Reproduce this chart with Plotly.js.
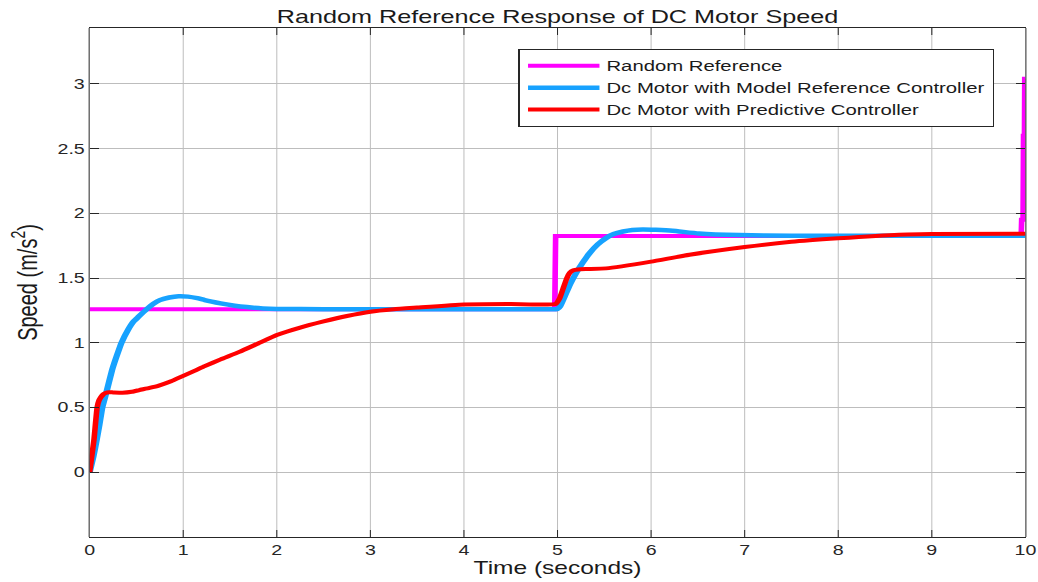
<!DOCTYPE html>
<html>
<head>
<meta charset="utf-8">
<script src="https://cdn.plot.ly/plotly-3.0.1.min.js"></script>
<style>
  html, body { margin: 0; padding: 0; background: #ffffff; overflow: hidden; }
  #wrap { width: 1038px; height: 582px; overflow: hidden; }
  #chart { width: 741px; height: 582px; transform: scaleX(1.40081); transform-origin: 0 0; }
</style>
</head>
<body>
<div id="wrap"><div id="chart"></div></div>
<script>
// ---- data ----
const refTime  = [0, 4.97, 4.98, 9.955, 9.96, 9.975, 9.98, 9.99, 9.993, 10];
const refSpeed = [1.26, 1.26, 1.825, 1.825, 1.95, 1.95, 2.6, 2.6, 3.04, 3.04];

const mrcTime  = [0, 0.04, 0.075, 0.105, 0.135, 0.18, 0.24, 0.29, 0.34, 0.41, 0.47, 0.52, 0.61, 0.68, 0.75, 0.85, 0.95, 1.05, 1.15, 1.23, 1.4, 1.55, 1.68, 1.85, 2.0, 2.5, 3, 4, 4.98, 5.0, 5.03, 5.09, 5.14, 5.2, 5.27, 5.34, 5.43, 5.52, 5.6, 5.7, 5.8, 5.91, 6.05, 6.23, 6.51, 6.94, 7.5, 8, 9, 10];
const mrcSpeed = [0, 0.12, 0.25, 0.37, 0.5, 0.62, 0.79, 0.9, 1.0, 1.1, 1.165, 1.2, 1.26, 1.3, 1.33, 1.35, 1.36, 1.357, 1.345, 1.33, 1.305, 1.287, 1.276, 1.266, 1.262, 1.26, 1.26, 1.26, 1.26, 1.262, 1.285, 1.38, 1.46, 1.54, 1.62, 1.69, 1.76, 1.81, 1.84, 1.86, 1.872, 1.876, 1.873, 1.866, 1.845, 1.832, 1.828, 1.828, 1.828, 1.828];

const mpcTime  = [0, 0.02, 0.046, 0.08, 0.1, 0.12, 0.145, 0.17, 0.21, 0.25, 0.35, 0.45, 0.53, 0.64, 0.74, 0.87, 1.0, 1.12, 1.23, 1.4, 1.6, 1.8, 2.0, 2.25, 2.5, 2.75, 3.0, 3.25, 3.5, 4.0, 4.5, 4.98, 5.02, 5.06, 5.1, 5.13, 5.17, 5.22, 5.3, 5.52, 6.0, 6.41, 7.0, 7.5, 8.0, 8.65, 9, 10];
const mpcSpeed = [0, 0.11, 0.25, 0.5, 0.555, 0.58, 0.602, 0.613, 0.618, 0.617, 0.615, 0.622, 0.635, 0.652, 0.67, 0.703, 0.745, 0.783, 0.82, 0.872, 0.93, 0.995, 1.06, 1.118, 1.165, 1.207, 1.24, 1.259, 1.272, 1.297, 1.30, 1.30, 1.34, 1.42, 1.5, 1.54, 1.56, 1.567, 1.57, 1.575, 1.627, 1.68, 1.74, 1.78, 1.807, 1.835, 1.84, 1.843];

const seriesNames = ['Random Reference', 'Dc Motor with Model Reference Controller', 'Dc Motor with Predictive Controller'];
const xTickVals = [0, 1, 2, 3, 4, 5, 6, 7, 8, 9, 10];
const xTickText = ['0', '1', '2', '3', '4', '5', '6', '7', '8', '9', '10'];
const yTickVals = [0, 0.5, 1, 1.5, 2, 2.5, 3];
const yTickText = ['0', '0.5', '1', '1.5', '2', '2.5', '3'];

const FONT = 'Liberation Sans, Arial, Helvetica, sans-serif';
const AX = '#262626';
const XW = 0.714; // compensates the horizontal stretch for vertical strokes

const traces = [
  { x: refTime, y: refSpeed, name: seriesNames[0], mode: 'lines', line: { color: '#ff00ff', width: 4 } },
  { x: mrcTime, y: mrcSpeed, name: seriesNames[1], mode: 'lines', line: { color: '#17a2ff', width: 4.5, shape: 'spline', smoothing: 0.4 } },
  { x: mpcTime, y: mpcSpeed, name: seriesNames[2], mode: 'lines', line: { color: '#ff0000', width: 4, shape: 'spline', smoothing: 0.4 } }
];

const tickFont = { family: FONT, size: 14, color: '#262626' };

const layout = {
  width: 741, height: 582,
  margin: { l: 63.5, r: 9.3, t: 28, b: 45 },
  paper_bgcolor: '#ffffff', plot_bgcolor: '#ffffff',
  font: { family: FONT, color: '#262626' },
  title: { text: 'Random Reference Response of DC Motor Speed', x: 0.5, xref: 'paper', y: 0.972, yref: 'container', yanchor: 'middle',
           font: { family: FONT, size: 18, color: '#1a1a1a' } },
  xaxis: {
    range: [0, 10], tickmode: 'array', tickvals: xTickVals, ticktext: xTickText,
    showline: true, linecolor: AX, linewidth: 1, mirror: 'ticks',
    ticks: 'inside', ticklen: 7, tickcolor: AX, tickwidth: XW,
    showgrid: true, gridcolor: '#bdbdbd', gridwidth: XW, zeroline: false,
    tickfont: tickFont,
    title: { text: 'Time (seconds)', standoff: 3, font: { family: FONT, size: 17.5, color: '#1a1a1a' } }
  },
  yaxis: {
    range: [-0.5, 3.432], tickmode: 'array', tickvals: yTickVals, ticktext: yTickText,
    showline: true, linecolor: AX, linewidth: XW, mirror: 'ticks',
    ticks: 'inside', ticklen: 7, tickcolor: AX, tickwidth: 1,
    showgrid: true, gridcolor: '#bdbdbd', gridwidth: 1, zeroline: false,
    tickfont: tickFont,
    title: { text: 'Speed (m/s<sup>2</sup>)', standoff: 8, font: { family: FONT, size: 20, color: '#1a1a1a' } }
  },
  showlegend: true,
  legend: {
    x: 0.458, y: 0.959, xanchor: 'left', yanchor: 'top',
    bgcolor: '#ffffff', bordercolor: '#262626', borderwidth: 1,
    font: { family: FONT, size: 14.5, color: '#1a1a1a' },
    itemwidth: 52, tracegroupgap: 0
  }
};

Plotly.newPlot('chart', traces, layout, { displayModeBar: false, staticPlot: true }).then(function () {
  document.querySelectorAll('#chart .legend .js-line').forEach(function (p) {
    p.setAttribute('d', 'M6,0h51');
  });
});
</script>
</body>
</html>
